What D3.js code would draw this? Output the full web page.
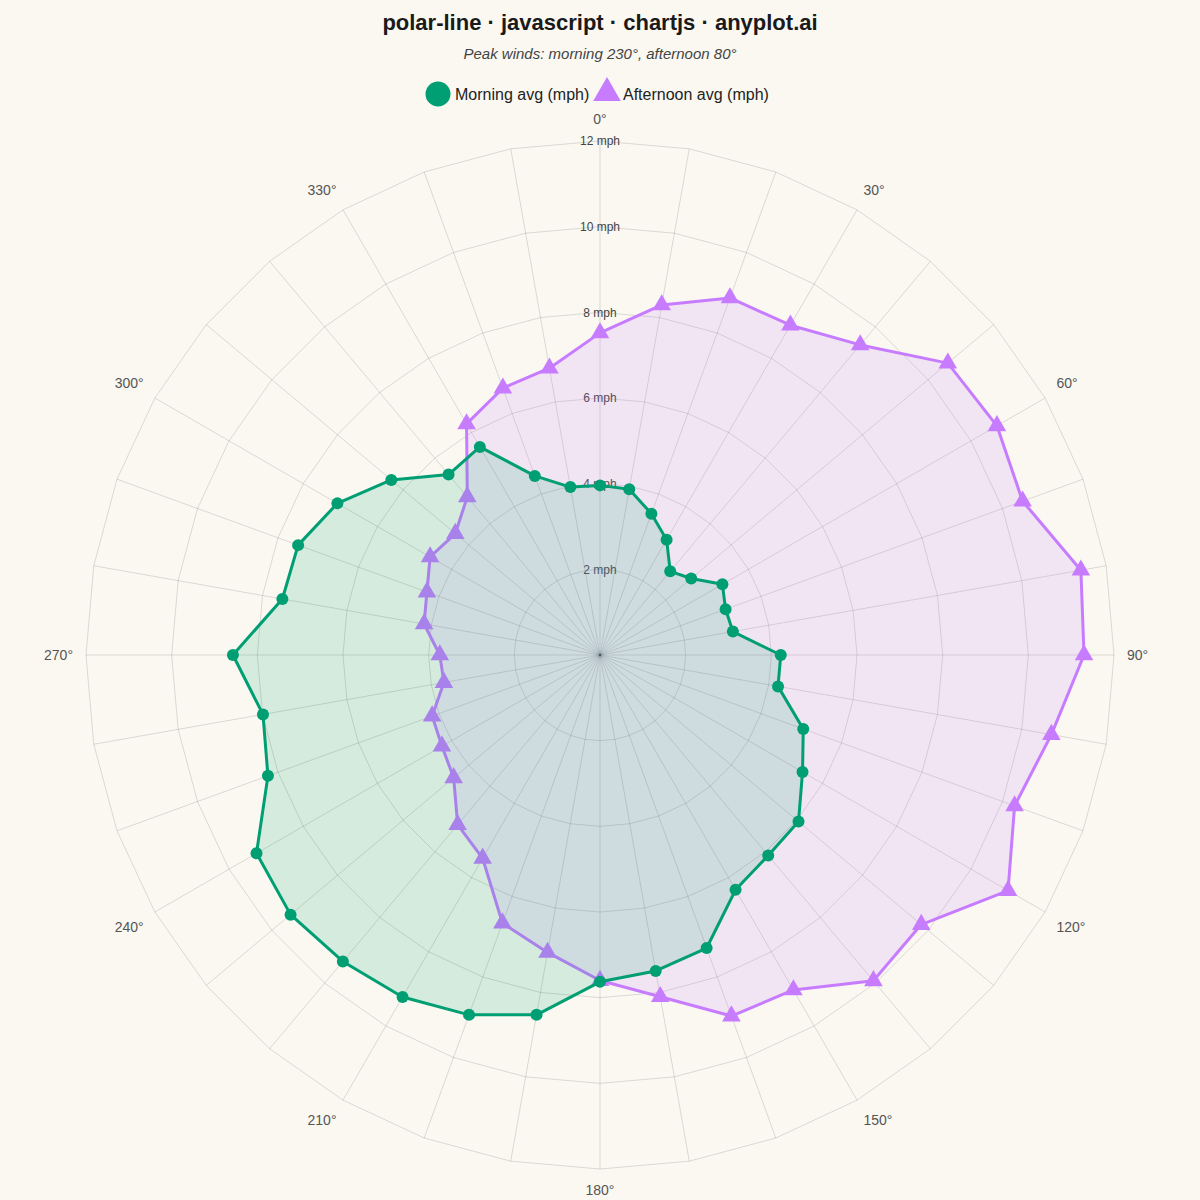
<!DOCTYPE html>
<html>
<head>
<meta charset="utf-8">
<script src="https://cdn.jsdelivr.net/npm/d3@7/dist/d3.min.js"></script>
<style>
  html, body { margin: 0; padding: 0; background: #FAF8F1; }
  body { font-family: "Liberation Sans", Arial, Helvetica, sans-serif; }
</style>
</head>
<body>
<div id="chart"></div>
<script>
// Wind direction (degrees) and average speeds (mph)
const directions = [0, 10, 20, 30, 40, 50, 60, 70, 80, 90, 100, 110,
  120, 130, 140, 150, 160, 170, 180, 190, 200, 210, 220, 230,
  240, 250, 260, 270, 280, 290, 300, 310, 320, 330, 340, 350];

const morningAvg = [3.96, 3.93, 3.51, 3.11, 2.55, 2.78, 3.30, 3.12, 3.15, 4.22, 4.22, 5.05,
  5.46, 6.05, 6.11, 6.33, 7.28, 7.49, 7.63, 8.53, 8.94, 9.22, 9.34, 9.43,
  9.26, 8.25, 7.99, 8.57, 7.53, 7.50, 7.08, 6.36, 5.50, 5.61, 4.45, 3.98];

const afternoonAvg = [7.52, 8.30, 8.87, 8.89, 9.45, 10.60, 10.70, 10.50, 11.40, 11.30, 10.70, 10.30,
  11.00, 9.79, 9.93, 9.03, 8.97, 8.10, 7.60, 7.05, 6.66, 5.48, 5.17, 4.46,
  4.26, 4.17, 3.70, 3.74, 4.17, 4.30, 4.58, 4.41, 4.82, 6.23, 6.63, 6.80];

const tickValues = [2, 4, 6, 8, 10, 12];
const labelAngles = [0, 30, 60, 90, 120, 150, 180, 210, 240, 270, 300, 330];

const series = [
  {name: "Afternoon avg (mph)", values: afternoonAvg, color: "#C77CFF", shape: "triangle"},
  {name: "Morning avg (mph)", values: morningAvg, color: "#009E73", shape: "circle"}
];

const width = 1200, height = 1200;
const cx = 600, cy = 655, radius = 514;

const svg = d3.select("#chart")
  .append("svg")
    .attr("width", width)
    .attr("height", height)
    .style("background", "#FAF8F1");

// Radial scale and angle helper
const r = d3.scaleLinear().domain([0, 12]).range([0, radius]);
const angle = d => d * Math.PI / 180;
const px = (deg, v) => cx + r(v) * Math.sin(angle(deg));
const py = (deg, v) => cy - r(v) * Math.cos(angle(deg));

// Title + subtitle
svg.append("text")
  .attr("x", width / 2)
  .attr("y", 30)
  .attr("text-anchor", "middle")
  .style("font-size", "22px")
  .style("font-weight", "bold")
  .style("fill", "#1a1a1a")
  .text("polar-line · javascript · chartjs · anyplot.ai");

svg.append("text")
  .attr("x", width / 2)
  .attr("y", 59)
  .attr("text-anchor", "middle")
  .style("font-size", "15px")
  .style("font-style", "italic")
  .style("fill", "#444")
  .text("Peak winds: morning 230°, afternoon 80°");

// Grid rings (polygons through every spoke)
const grid = svg.append("g");
tickValues.forEach(t => {
  grid.append("polygon")
    .attr("points", directions.map(d => `${px(d, t)},${py(d, t)}`).join(" "))
    .attr("fill", "none")
    .attr("stroke", "rgba(0,0,0,0.13)")
    .attr("stroke-width", 1);
});

// Spokes
grid.selectAll(".spoke")
  .data(directions)
  .enter()
  .append("line")
    .attr("x1", cx)
    .attr("y1", cy)
    .attr("x2", d => px(d, 12))
    .attr("y2", d => py(d, 12))
    .attr("stroke", "rgba(0,0,0,0.13)")
    .attr("stroke-width", 1);

// Tick labels
svg.append("g").selectAll("text")
  .data(tickValues)
  .enter()
  .append("text")
    .attr("x", cx)
    .attr("y", d => cy - r(d))
    .attr("dy", "0.35em")
    .attr("text-anchor", "middle")
    .style("font-size", "12px")
    .style("fill", "#444")
    .text(d => `${d} mph`);

// Angle labels: anchored just outside the outer ring, pushed out by half their box
const labelR = radius + 13;
const labelH = 17;
svg.append("g").selectAll("text")
  .data(labelAngles)
  .enter()
  .append("text")
    .attr("dy", "0.35em")
    .attr("text-anchor", "middle")
    .style("font-size", "14px")
    .style("fill", "#555")
    .text(d => `${d}°`)
    .each(function(d) {
      const w = this.getComputedTextLength();
      const s = Math.sin(angle(d)), c = Math.cos(angle(d));
      const ox = s > 1e-6 ? w / 2 : (s < -1e-6 ? -w / 2 : 0);
      const oy = c > 1e-6 ? -labelH / 2 : (c < -1e-6 ? labelH / 2 : 0);
      d3.select(this)
        .attr("x", cx + labelR * s + ox)
        .attr("y", cy - labelR * c + oy);
    });

// Series
const lineGen = d3.lineRadial()
  .angle((v, i) => angle(directions[i]))
  .radius(v => r(v))
  .curve(d3.curveLinearClosed);

const triangle = d3.symbol().type(d3.symbolTriangle).size(150);

series.forEach(s => {
  const g = svg.append("g").attr("transform", `translate(${cx},${cy})`);

  g.append("path")
    .attr("d", lineGen(s.values))
    .attr("fill", s.color)
    .attr("fill-opacity", 0.15)
    .attr("stroke", s.color)
    .attr("stroke-width", 3)
    .attr("stroke-linejoin", "round");

  const pts = g.selectAll(".pt")
    .data(s.values)
    .enter();

  if (s.shape === "circle") {
    pts.append("circle")
      .attr("cx", (v, i) => px(directions[i], v) - cx)
      .attr("cy", (v, i) => py(directions[i], v) - cy)
      .attr("r", 6)
      .attr("fill", s.color);
  } else {
    pts.append("path")
      .attr("d", triangle)
      .attr("transform", (v, i) => `translate(${px(directions[i], v) - cx},${py(directions[i], v) - cy})`)
      .attr("fill", s.color);
  }
});

// Legend
const legend = svg.append("g");
legend.append("circle")
  .attr("cx", 438)
  .attr("cy", 94)
  .attr("r", 12.5)
  .attr("fill", "#009E73");
legend.append("text")
  .attr("x", 455)
  .attr("y", 94)
  .attr("dy", "0.35em")
  .style("font-size", "16px")
  .style("fill", "#222")
  .text("Morning avg (mph)");
legend.append("path")
  .attr("d", d3.symbol().type(d3.symbolTriangle).size(330))
  .attr("transform", "translate(607,93)")
  .attr("fill", "#C77CFF");
legend.append("text")
  .attr("x", 623)
  .attr("y", 94)
  .attr("dy", "0.35em")
  .style("font-size", "16px")
  .style("fill", "#222")
  .text("Afternoon avg (mph)");
</script>
</body>
</html>
